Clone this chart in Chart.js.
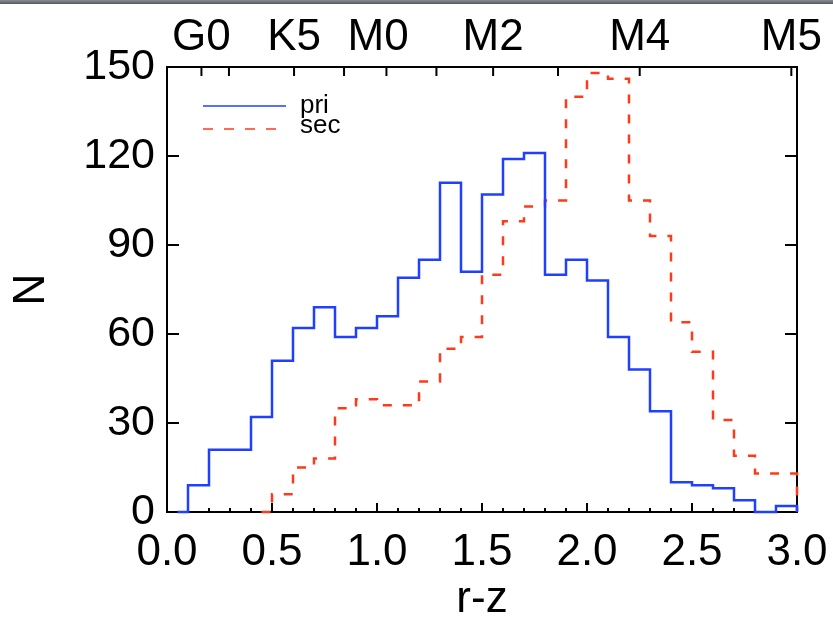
<!DOCTYPE html>
<html>
<head>
    <title>r-z histogram</title>
    <script src="https://cdn.jsdelivr.net/npm/chart.js"></script>
    <style>
        body {
            margin: 0;
            background: #ffffff;
        }

        #wrap {
            position: relative;
            width: 833px;
            height: 617px;
        }

        #topBar {
            position: absolute;
            left: 0;
            top: 0;
            width: 833px;
            height: 4px;
            background: linear-gradient(to bottom, #8a8c92, #55585f);
        }
    </style>
</head>
<body>
    <div id="wrap">
        <canvas id="histChart" width="833" height="617"></canvas>
        <div id="topBar"></div>
    </div>
    <script>
        // left edge of each r-z bin (width 0.1)
        const binStart = [0.0, 0.1, 0.2, 0.3, 0.4, 0.5, 0.6, 0.7, 0.8, 0.9,
                          1.0, 1.1, 1.2, 1.3, 1.4, 1.5, 1.6, 1.7, 1.8, 1.9,
                          2.0, 2.1, 2.2, 2.3, 2.4, 2.5, 2.6, 2.7, 2.8, 2.9];
        const binEnd = 3.0;

        // counts per bin
        const priCounts = [0, 9, 21, 21, 32, 51, 62, 69, 59, 62,
                           66, 79, 85, 111, 81, 107, 119, 121, 80, 85,
                           78, 59, 48, 34, 10, 9, 8, 4, 0, 2];
        const secCounts = [0, 0, 0, 0, 0, 6, 15, 18, 35, 38,
                           36, 36, 44, 55, 59, 80, 98, 103, 105, 140,
                           148, 146, 105, 93, 64, 54, 31, 19, 13, 13];

        // where each histogram line begins
        const priStart = 0.05;
        const secStart = 0.45;

        // axis ticks
        const yTicks = [0, 30, 60, 90, 120, 150];
        const xLabelTicks = [0.0, 0.5, 1.0, 1.5, 2.0, 2.5, 3.0];
        // spectral type marks on the top axis (all of them get a tick, some a label)
        const specTickPos = [0.164, 0.295, 0.605, 0.843, 1.045, 1.283, 1.553, 1.862, 2.251, 2.973];
        const specLabelPos = [0.164, 0.605, 1.005, 1.553, 2.251, 2.973];
        const specLabels = ['G0', 'K5', 'M0', 'M2', 'M4', 'M5'];

        const FONT = "'Liberation Sans', Arial, Helvetica, sans-serif";
        const BLUE = '#1f40ff';
        const RED = '#ff3a1a';

        function histPoints(counts, start) {
            const pts = [];
            for (let i = 0; i < binStart.length; i++) {
                const right = i + 1 < binStart.length ? binStart[i + 1] : binEnd;
                if (right <= start) continue;
                pts.push({x: Math.max(binStart[i], start), y: counts[i]});
            }
            pts.push({x: binEnd, y: 0});
            return pts;
        }

        // label overhang should not shrink the plot box
        function noSidePadding(s, h) {
            s.height = h;
            s.paddingLeft = 0;
            s.paddingRight = 0;
        }

        // frame + inward ticks like the original plot
        const framePlugin = {
            id: 'frame',
            beforeDatasetsDraw(chart) {
                const ctx = chart.ctx;
                const area = chart.chartArea;
                const xs = chart.scales.x;
                const ys = chart.scales.y;
                ctx.save();
                ctx.strokeStyle = '#000';
                ctx.lineWidth = 2;
                ctx.beginPath();
                ctx.rect(area.left, area.top, area.right - area.left, area.bottom - area.top);
                ctx.stroke();

                ctx.beginPath();
                // bottom ticks every 0.1, longer at every 0.5
                for (let k = 0; k <= 30; k++) {
                    const px = xs.getPixelForValue(k / 10);
                    const len = k % 5 === 0 ? 9 : 4;
                    ctx.moveTo(px, area.bottom);
                    ctx.lineTo(px, area.bottom - len);
                }
                // top spectral type ticks
                specTickPos.forEach(v => {
                    const px = xs.getPixelForValue(v);
                    ctx.moveTo(px, area.top);
                    ctx.lineTo(px, area.top + 9);
                });
                // y ticks on both sides
                yTicks.forEach(v => {
                    const py = ys.getPixelForValue(v);
                    ctx.moveTo(area.left, py);
                    ctx.lineTo(area.left + 12, py);
                    ctx.moveTo(area.right, py);
                    ctx.lineTo(area.right - 12, py);
                });
                ctx.stroke();
                ctx.restore();
            },
            afterDraw(chart) {
                // legend box in the upper left
                const ctx = chart.ctx;
                ctx.save();
                ctx.lineWidth = 1.5;
                ctx.strokeStyle = BLUE;
                ctx.beginPath();
                ctx.moveTo(203, 106);
                ctx.lineTo(286, 106);
                ctx.stroke();
                ctx.strokeStyle = RED;
                ctx.setLineDash([10, 11]);
                ctx.beginPath();
                ctx.moveTo(203, 129);
                ctx.lineTo(277, 129);
                ctx.stroke();
                ctx.setLineDash([]);
                ctx.fillStyle = '#000';
                ctx.font = '26px ' + FONT;
                ctx.textBaseline = 'alphabetic';
                ctx.fillText('pri', 300, 113);
                ctx.fillText('sec', 300, 133);
                ctx.restore();
            }
        };

        const ctx = document.getElementById('histChart').getContext('2d');
        Chart.defaults.font.family = FONT;
        Chart.defaults.color = '#000';

        const chart = new Chart(ctx, {
            type: 'line',
            data: {
                datasets: [
                    {
                        label: 'pri',
                        data: histPoints(priCounts, priStart),
                        borderColor: BLUE,
                        borderWidth: 2.5,
                        stepped: 'before',
                        pointRadius: 0,
                        fill: false,
                        clip: 4,
                    },
                    {
                        label: 'sec',
                        data: histPoints(secCounts, secStart),
                        borderColor: RED,
                        borderWidth: 2.5,
                        borderDash: [9, 11],
                        stepped: 'before',
                        pointRadius: 0,
                        fill: false,
                        clip: 4,
                    },
                ],
            },
            options: {
                responsive: false,
                animation: false,
                layout: {
                    padding: {left: 0, right: 36, top: 0, bottom: 0},
                },
                plugins: {
                    legend: {display: false},
                    tooltip: {enabled: false},
                },
                scales: {
                    x: {
                        type: 'linear',
                        position: 'bottom',
                        min: 0,
                        max: 3,
                        grid: {display: false, drawTicks: false},
                        border: {display: false},
                        afterBuildTicks: s => { s.ticks = xLabelTicks.map(v => ({value: v})); },
                        afterFit: s => noSidePadding(s, 105),
                        ticks: {
                            autoSkip: false,
                            maxRotation: 0,
                            padding: 14,
                            font: {size: 44},
                            callback: v => v.toFixed(1),
                        },
                        title: {
                            display: true,
                            text: 'r-z',
                            font: {size: 44, lineHeight: 0.8},
                            padding: {top: 0, bottom: 0},
                        },
                    },
                    xTop: {
                        type: 'linear',
                        position: 'top',
                        min: 0,
                        max: 3,
                        grid: {display: false, drawTicks: false},
                        border: {display: false},
                        afterBuildTicks: s => { s.ticks = specLabelPos.map(v => ({value: v})); },
                        afterFit: s => noSidePadding(s, 67),
                        ticks: {
                            autoSkip: false,
                            maxRotation: 0,
                            padding: 3,
                            font: {size: 44},
                            callback: (v, i) => specLabels[i],
                        },
                    },
                    y: {
                        type: 'linear',
                        position: 'left',
                        min: 0,
                        max: 150,
                        grid: {display: false, drawTicks: false},
                        border: {display: false},
                        afterBuildTicks: s => { s.ticks = yTicks.map(v => ({value: v})); },
                        afterFit: s => { s.width = 167; s.paddingTop = 0; s.paddingBottom = 0; },
                        ticks: {
                            padding: 12,
                            font: {size: 43},
                        },
                        title: {
                            display: true,
                            text: 'N',
                            font: {size: 44},
                            padding: {top: 5, bottom: 0},
                        },
                    },
                },
            },
            plugins: [framePlugin],
        });
    </script>
</body>
</html>
